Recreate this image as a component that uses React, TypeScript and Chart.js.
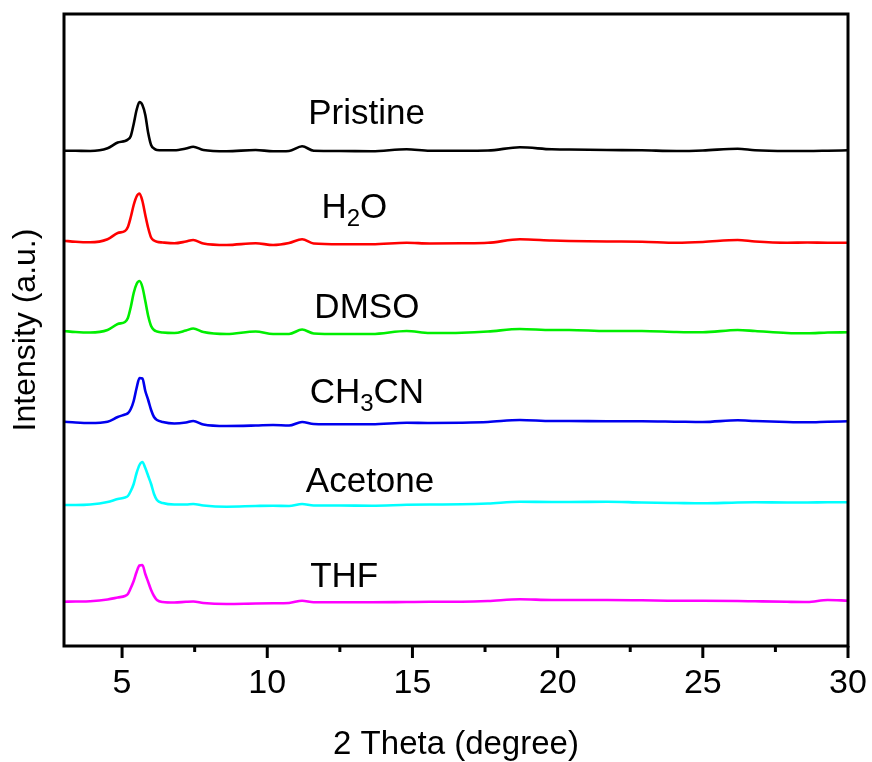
import React, { useEffect, useRef } from "react";
import { Chart, registerables } from "chart.js";

Chart.register(...registerables);

// 2θ sampling positions (degree)
const twoTheta = [
  3.0, 3.4, 3.9, 4.5, 4.85, 5.1, 5.2, 5.3, 5.4, 5.5, 5.6, 5.7, 5.8, 5.9, 6.0, 6.1, 6.2, 6.4, 6.8, 7.2,
  7.45, 7.8, 8.6, 9.6, 10.2, 10.75, 11.2, 11.6, 12.5, 13.6, 14.8, 15.6, 16.7, 17.6, 18.7, 19.8, 20.4,
  21.7, 22.9, 24.1, 25.0, 26.2, 26.8, 27.9, 28.6, 29.3, 30.0,
];

// Offset (stacked) intensities, a.u.
const pristine = [
  495.3, 495.2, 495, 497.7, 503.5, 505, 506.5, 510, 522, 536, 544, 541, 531, 513, 501, 497.5, 496, 495.7, 495.7, 497.5,
  499.3, 496, 494.7, 496, 494.7, 495, 499.7, 495.3, 495, 494.7, 496.7, 495.3, 495.3, 495.5, 498.7, 496.7, 496.5,
  496, 495.7, 495, 495.5, 497.3, 495.7, 495, 495, 495.3, 495.7,
];
const water = [
  405.3, 404.2, 403.7, 406.8, 413, 415, 419, 429, 441, 449.5, 452.5, 445, 431, 418, 408.5, 405.5, 404.2, 403.5, 402.7, 404.5,
  406, 402.5, 401, 402.7, 401, 403, 406.7, 402.5, 401.7, 401.7, 403.3, 402.5, 402.7, 403.2, 406.7, 405.5, 405,
  404.5, 404.3, 403.3, 404, 406, 404.5, 403.3, 403.5, 403.3, 403.3,
];
const dmso = [
  315, 314, 313.5, 316, 322, 324, 328, 339, 353, 362, 365, 359, 345, 330, 320, 316, 314.5, 313.5, 313, 315.5,
  317.5, 314, 312, 314.5, 312, 312, 316.5, 312.5, 312, 312, 315, 313, 313.3, 314.5, 317, 316, 316,
  315, 315, 314, 313.7, 316, 315, 313, 312.7, 313.5, 313.7,
];
const acetonitrile = [
  224.3, 223.5, 223, 224.3, 229, 231.5, 232.7, 237, 245, 258, 268, 267.5, 255, 246, 236, 229, 226, 224, 222.5, 223.5,
  225, 221.5, 220, 220.5, 221, 220.5, 224, 222, 221.7, 221.7, 223.3, 223, 223.3, 224, 226, 225, 225,
  224.7, 224.7, 224.3, 224, 225.7, 225, 224, 223.7, 224.3, 224.7,
];
const acetone = [
  141, 141, 141.5, 144, 147, 148.5, 150, 155, 162, 173, 181, 184, 178, 170, 162, 152, 146, 143, 141.5, 141.5,
  142, 140.5, 139.3, 140, 140.3, 140, 142, 140.5, 140.5, 140.3, 141.2, 141.5, 141.7, 142.5, 144.3, 144, 144,
  144.3, 143.5, 143, 142.7, 143.5, 143.7, 143.5, 143.5, 143.7, 143.7,
];
const thf = [
  44.3, 44.5, 44.8, 46.5, 48.5, 50, 52, 58, 65, 74, 80.5, 81, 72, 64, 56, 50, 46, 44, 43.5, 44.2,
  44.5, 43, 42, 42.5, 42.7, 43, 45.3, 43.7, 43.7, 43.7, 44, 44.2, 44.3, 45, 46.7, 46, 46,
  46, 45.7, 45.3, 45.3, 45, 44.7, 44.2, 44, 46, 45.3,
];

const seriesNames = ["Pristine", "H2O", "DMSO", "CH3CN", "Acetone", "THF"];
const seriesValues = [pristine, water, dmso, acetonitrile, acetone, thf];
const seriesColors = ["#000000", "#ff0000", "#00ee00", "#0000ee", "#00ffff", "#ff00ff"];

const xMajorTicks = [5, 10, 15, 20, 25, 30];
const xMinorTicks = [7.5, 12.5, 17.5, 22.5, 27.5];

const FONT = "'Liberation Sans', Arial, Helvetica, sans-serif";

// Curve labels: text segments (sub = subscript), anchored at (2θ centre, intensity of baseline)
const curveLabels = [
  { parts: [{ t: "Pristine" }], x: 13.42, y: 521.7 },
  { parts: [{ t: "H" }, { t: "2", sub: true }, { t: "O" }], x: 13.0, y: 427.7 },
  { parts: [{ t: "DMSO" }], x: 13.43, y: 327.7 },
  { parts: [{ t: "CH" }, { t: "3", sub: true }, { t: "CN" }], x: 13.43, y: 242.7 },
  { parts: [{ t: "Acetone" }], x: 13.54, y: 154.3 },
  { parts: [{ t: "THF" }], x: 12.65, y: 59.3 },
];

const decorPlugin = {
  id: "decor",
  afterDraw(chart: any) {
    const { ctx, chartArea: a, scales } = chart;
    const x = scales.x;
    const y = scales.y;
    ctx.save();
    ctx.strokeStyle = "#000";
    ctx.lineWidth = 3;
    ctx.lineCap = "butt";
    ctx.strokeRect(a.left, a.top, a.right - a.left, a.bottom - a.top);
    for (const v of xMajorTicks) {
      const px = x.getPixelForValue(v);
      ctx.beginPath();
      ctx.moveTo(px, a.bottom);
      ctx.lineTo(px, a.bottom + 12);
      ctx.stroke();
    }
    for (const v of xMinorTicks) {
      const px = x.getPixelForValue(v);
      ctx.beginPath();
      ctx.moveTo(px, a.bottom);
      ctx.lineTo(px, a.bottom + 6);
      ctx.stroke();
    }
    ctx.fillStyle = "#000";
    ctx.textBaseline = "alphabetic";
    ctx.textAlign = "left";
    const mainFont = `35px ${FONT}`;
    const subFont = `24px ${FONT}`;
    for (const lab of curveLabels) {
      let total = 0;
      const widths = lab.parts.map((p: any) => {
        ctx.font = p.sub ? subFont : mainFont;
        const w = ctx.measureText(p.t).width;
        total += w;
        return w;
      });
      let cx = x.getPixelForValue(lab.x) - total / 2;
      const by = y.getPixelForValue(lab.y);
      lab.parts.forEach((p: any, i: number) => {
        ctx.font = p.sub ? subFont : mainFont;
        ctx.fillText(p.t, cx, p.sub ? by + 8 : by);
        cx += widths[i];
      });
    }
    ctx.restore();
  },
};

export default function App() {
  const ref = useRef<HTMLCanvasElement | null>(null);
  useEffect(() => {
    if (!ref.current) return;
    const chart = new Chart(ref.current, {
      type: "line",
      data: {
        labels: twoTheta,
        datasets: seriesNames.map((name, i) => ({
          label: name,
          data: twoTheta.map((t, j) => ({ x: t, y: seriesValues[i][j] })),
          borderColor: seriesColors[i],
          borderWidth: 2.6,
          pointRadius: 0,
          fill: false,
          cubicInterpolationMode: "monotone" as const,
        })),
      },
      options: {
        responsive: false,
        animation: false,
        events: [],
        layout: { padding: { left: 0, top: 14, right: 24, bottom: 0 } },
        plugins: { legend: { display: false }, tooltip: { enabled: false } },
        scales: {
          x: {
            type: "linear",
            min: 3,
            max: 30,
            grid: { display: false, drawTicks: false },
            border: { display: false },
            afterBuildTicks: (s: any) => {
              s.ticks = xMajorTicks.map((v) => ({ value: v }));
            },
            afterFit: (s: any) => {
              s.height = 116;
              s.paddingLeft = 0;
              s.paddingRight = 0;
            },
            ticks: {
              color: "#000",
              font: { family: FONT, size: 34 },
              padding: 17,
              maxRotation: 0,
              autoSkip: false,
            },
            title: {
              display: true,
              text: "2 Theta (degree)",
              color: "#000",
              font: { family: FONT, size: 33, lineHeight: 1 },
              padding: { top: 0, bottom: 1 },
            },
          },
          y: {
            type: "linear",
            min: 0,
            max: 632,
            grid: { display: false, drawTicks: false },
            border: { display: false },
            ticks: { display: false },
            afterFit: (s: any) => {
              s.width = 64;
              s.paddingTop = 0;
              s.paddingBottom = 0;
            },
            title: {
              display: true,
              text: "Intensity (a.u.)",
              color: "#000",
              font: { family: FONT, size: 32, lineHeight: 1.2 },
              padding: { top: 7, bottom: 0 },
            },
          },
        },
      },
      plugins: [decorPlugin],
    });
    return () => chart.destroy();
  }, []);
  return (
    <div style={{ position: "fixed", left: 0, top: 0, width: 872, height: 762, background: "#fff" }}>
      <canvas ref={ref} width={872} height={762} style={{ display: "block" }} />
    </div>
  );
}
